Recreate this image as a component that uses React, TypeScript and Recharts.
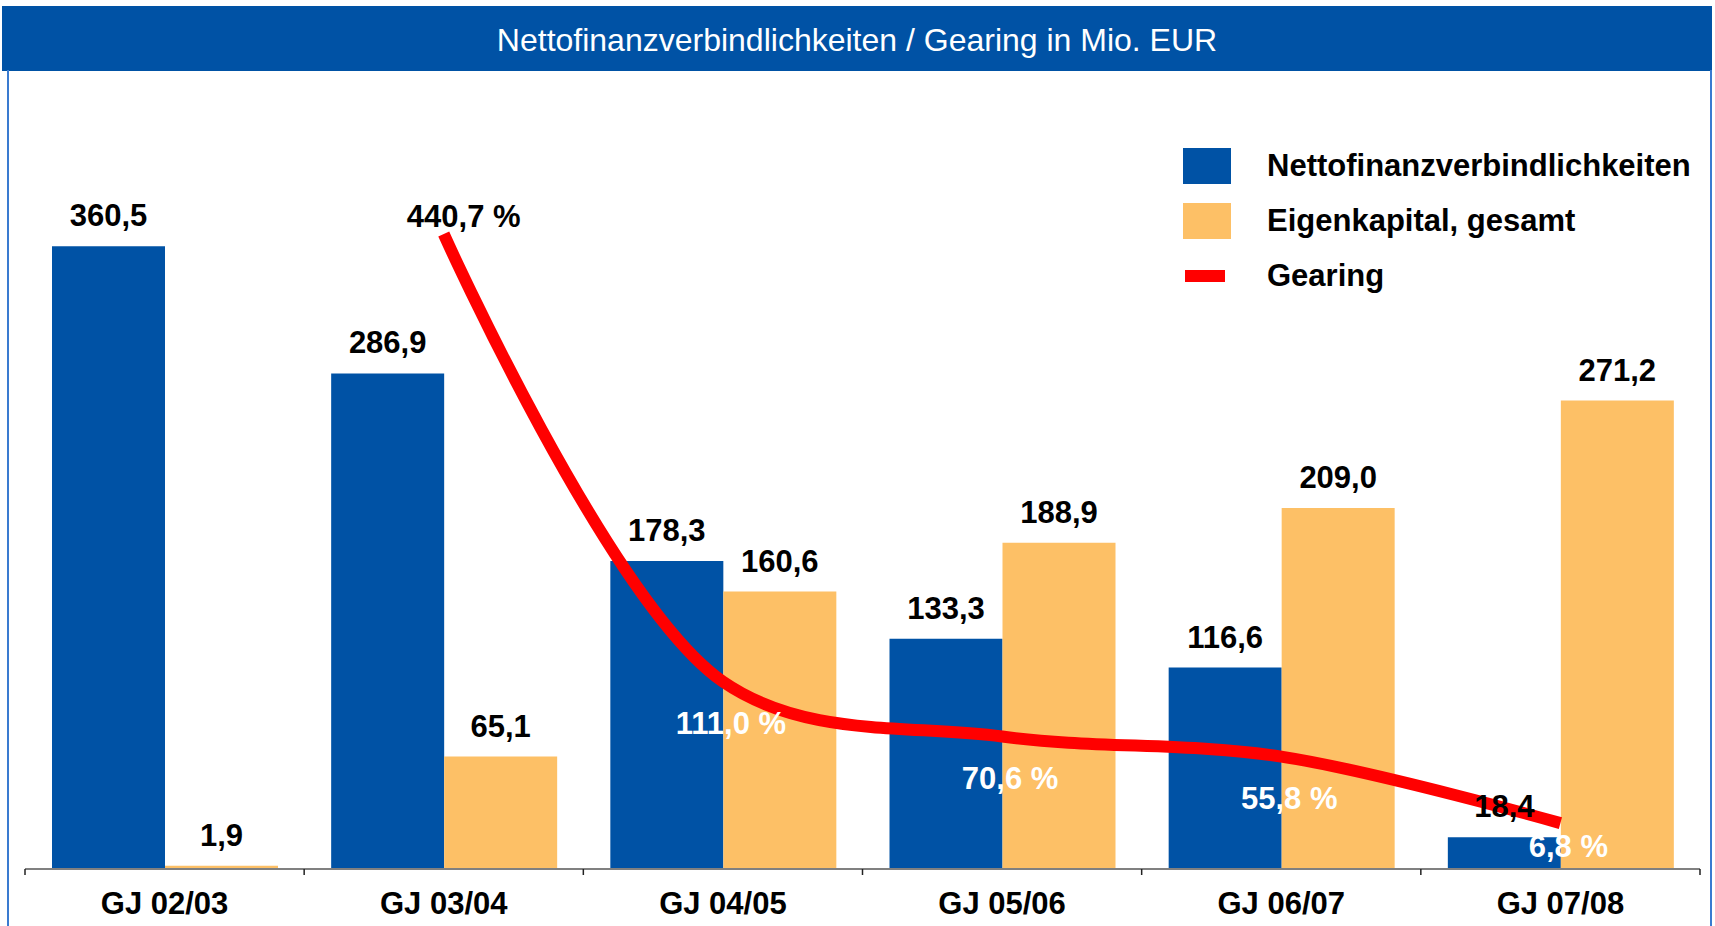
import React from "react";
import { ComposedChart, Bar, Line, XAxis, YAxis, LabelList } from "recharts";

const categories = ["GJ 02/03", "GJ 03/04", "GJ 04/05", "GJ 05/06", "GJ 06/07", "GJ 07/08"];
const nettofinanz = [360.5, 286.9, 178.3, 133.3, 116.6, 18.4];
const eigenkapital = [1.9, 65.1, 160.6, 188.9, 209.0, 271.2];
const gearing: (number | null)[] = [null, 440.7, 111.0, 70.6, 55.8, 6.8];

const data = categories.map((name, i) => ({
  name,
  netto: nettofinanz[i],
  eigen: eigenkapital[i],
  gearing: gearing[i],
}));

const BLUE = "#0052A5";
const ORANGE = "#FDC066";
const RED = "#FF0000";
const FONT = "'Liberation Sans', Arial, Helvetica, sans-serif";

const W = 1715;
const H = 926;
const MARGIN = { top: 178, right: 15, bottom: 0, left: 25 };
const X_AXIS_H = 57;
const AXIS_Y = H - X_AXIS_H;
const BAND = (W - MARGIN.left - MARGIN.right) / categories.length;

const fmt = (v: any) => (typeof v === "number" ? v.toFixed(1).replace(".", ",") : "");

const legendItems = [
  { label: "Nettofinanzverbindlichkeiten", color: BLUE, kind: "box" },
  { label: "Eigenkapital, gesamt", color: ORANGE, kind: "box" },
  { label: "Gearing", color: RED, kind: "line" },
];

// smoothed line like the office chart: centripetal catmull-rom through each point
function smoothCurve(context: any) {
  const alpha = 0.5;
  let pts: [number, number][] = [];
  return {
    areaStart() {},
    areaEnd() {},
    lineStart() {
      pts = [];
    },
    point(x: number, y: number) {
      pts.push([+x, +y]);
    },
    lineEnd() {
      if (!pts.length) return;
      context.moveTo(pts[0][0], pts[0][1]);
      for (let i = 0; i < pts.length - 1; i++) {
        const p0 = pts[i - 1] || pts[i];
        const p1 = pts[i];
        const p2 = pts[i + 1];
        const p3 = pts[i + 2] || p2;
        const l01 = Math.pow(Math.hypot(p1[0] - p0[0], p1[1] - p0[1]), alpha);
        const l12 = Math.pow(Math.hypot(p2[0] - p1[0], p2[1] - p1[1]), alpha);
        const l23 = Math.pow(Math.hypot(p3[0] - p2[0], p3[1] - p2[1]), alpha);
        let c1x = p1[0];
        let c1y = p1[1];
        let c2x = p2[0];
        let c2y = p2[1];
        if (l01 > 1e-6) {
          const a = 2 * l01 * l01 + 3 * l01 * l12 + l12 * l12;
          const n = 3 * l01 * (l01 + l12);
          c1x = (p1[0] * a - p0[0] * l12 * l12 + p2[0] * l01 * l01) / n;
          c1y = (p1[1] * a - p0[1] * l12 * l12 + p2[1] * l01 * l01) / n;
        }
        if (l23 > 1e-6) {
          const b = 2 * l23 * l23 + 3 * l23 * l12 + l12 * l12;
          const m = 3 * l23 * (l23 + l12);
          c2x = (p2[0] * b + p1[0] * l23 * l23 - p3[0] * l12 * l12) / m;
          c2y = (p2[1] * b + p1[1] * l23 * l23 - p3[1] * l12 * l12) / m;
        }
        context.bezierCurveTo(c1x, c1y, c2x, c2y, p2[0], p2[1]);
      }
    },
  };
}

function CategoryTick(props: any) {
  const { x, payload } = props;
  const half = BAND / 2;
  const last = payload.value === categories[categories.length - 1];
  return (
    <g>
      <line x1={x - half} x2={x - half} y1={AXIS_Y} y2={AXIS_Y + 6} stroke="#222" strokeWidth={1.5} />
      {last && <line x1={x + half} x2={x + half} y1={AXIS_Y} y2={AXIS_Y + 6} stroke="#222" strokeWidth={1.5} />}
      <text x={x} y={AXIS_Y + 45} textAnchor="middle" fontSize={31} fontWeight="bold" fill="#000">
        {payload.value}
      </text>
    </g>
  );
}

function GearingLabel(props: any) {
  const { index, value } = props;
  const x = props.x ?? props.viewBox?.x;
  const y = props.y ?? props.viewBox?.y;
  if (value == null || x == null || y == null) return null;
  const first = gearing.findIndex((v) => v != null);
  if (index === first) {
    return (
      <text x={x + 20} y={y - 7} textAnchor="middle" fontSize={31} fontWeight="bold" fill="#000">
        {fmt(value)} %
      </text>
    );
  }
  return (
    <text x={x + 8} y={Math.min(y + 52, AXIS_Y - 12)} textAnchor="middle" fontSize={31} fontWeight="bold" fill="#fff">
      {fmt(value)} %
    </text>
  );
}

function LegendBox() {
  return (
    <div style={{ position: "absolute", left: 1182, top: 138, width: 530 }}>
      {legendItems.map((it) => (
        <div key={it.label} style={{ display: "flex", alignItems: "center", height: 55 }}>
          <div style={{ width: 85, display: "flex", alignItems: "center" }}>
            {it.kind === "box" ? (
              <div style={{ width: 48, height: 36, background: it.color, marginLeft: 1 }} />
            ) : (
              <div style={{ width: 40, height: 12, background: it.color, marginLeft: 3 }} />
            )}
          </div>
          <span style={{ fontSize: 31, fontWeight: "bold", color: "#000", whiteSpace: "nowrap" }}>{it.label}</span>
        </div>
      ))}
    </div>
  );
}

export default function App() {
  return (
    <div
      style={{
        position: "absolute",
        left: 0,
        top: 0,
        width: W,
        height: H,
        background: "#fff",
        fontFamily: FONT,
        overflow: "hidden",
      }}
    >
      <ComposedChart width={W} height={H} data={data} margin={MARGIN} barCategoryGap={27} barGap={0}>
        <XAxis
          dataKey="name"
          height={X_AXIS_H}
          axisLine={{ stroke: "#808080", strokeWidth: 2 }}
          tickLine={false}
          tick={<CategoryTick />}
          interval={0}
        />
        <YAxis yAxisId="left" hide domain={[0, 400]} />
        <YAxis yAxisId="right" hide domain={[-27, 482]} orientation="right" />
        <Bar yAxisId="left" dataKey="netto" fill={BLUE} isAnimationActive={false}>
          <LabelList dataKey="netto" position="top" offset={20} formatter={fmt} fontSize={31} fontWeight="bold" fill="#000" />
        </Bar>
        <Bar yAxisId="left" dataKey="eigen" fill={ORANGE} isAnimationActive={false}>
          <LabelList dataKey="eigen" position="top" offset={20} formatter={fmt} fontSize={31} fontWeight="bold" fill="#000" />
        </Bar>
        <Line
          yAxisId="right"
          type={smoothCurve as any}
          dataKey="gearing"
          stroke={RED}
          strokeWidth={12}
          dot={false}
          activeDot={false}
          connectNulls
          isAnimationActive={false}
        >
          <LabelList dataKey="gearing" content={<GearingLabel />} />
        </Line>
      </ComposedChart>

      <LegendBox />

      <div
        style={{
          position: "absolute",
          left: 2,
          top: 6,
          width: 1710,
          height: 65,
          background: BLUE,
          color: "#fff",
          fontSize: 32,
          lineHeight: "69px",
          textAlign: "center",
        }}
      >
        Nettofinanzverbindlichkeiten / Gearing in Mio. EUR
      </div>
      <div style={{ position: "absolute", left: 7, top: 70, width: 2, height: H - 70, background: "#3A7BD0" }} />
      <div style={{ position: "absolute", left: 1710, top: 70, width: 2, height: H - 70, background: "#3A7BD0" }} />
    </div>
  );
}
